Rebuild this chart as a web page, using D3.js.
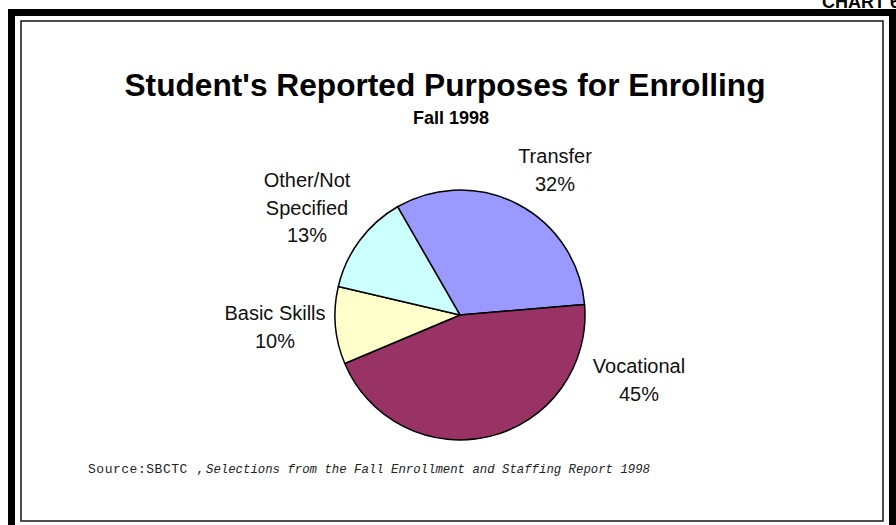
<!DOCTYPE html>
<html><head><meta charset="utf-8">
<script src="https://cdn.jsdelivr.net/npm/d3@7"></script>
<style>html,body{margin:0;padding:0;background:#fff;}svg{display:block;}</style>
</head><body>
<script>
const categories = ["Transfer", "Vocational", "Basic Skills", "Other/Not Specified"];
const values = [32, 45, 10, 13];
const colors = ["#9999FF", "#993366", "#FFFFCC", "#CCFFFF"];
const labelLines = [["Transfer", "32%"], ["Vocational", "45%"], ["Basic Skills", "10%"], ["Other/Not", "Specified", "13%"]];

const W = 896, H = 525;
const svg = d3.select("body").append("svg").attr("width", W).attr("height", H);

// frame
svg.append("rect").attr("x", 11.5).attr("y", 12.5).attr("width", 881).attr("height", 520)
  .attr("fill", "none").attr("stroke", "#000").attr("stroke-width", 7);
svg.append("rect").attr("x", 21).attr("y", 21).attr("width", 862).attr("height", 500)
  .attr("fill", "none").attr("stroke", "#222").attr("stroke-width", 1.6);

svg.append("text").attr("x", 900).attr("y", 8).attr("text-anchor", "end")
  .attr("font-family", "Liberation Sans, Arial, sans-serif").attr("font-weight", "bold")
  .attr("font-size", 18).text("CHART 6");

svg.append("text").attr("x", 445).attr("y", 96).attr("text-anchor", "middle")
  .attr("font-family", "Liberation Sans, Arial, sans-serif").attr("font-weight", "bold")
  .attr("font-size", 31).attr("textLength", 641).attr("lengthAdjust", "spacingAndGlyphs")
  .text("Student's Reported Purposes for Enrolling");
svg.append("text").attr("x", 451).attr("y", 124).attr("text-anchor", "middle")
  .attr("font-family", "Liberation Sans, Arial, sans-serif").attr("font-weight", "bold")
  .attr("font-size", 18).text("Fall 1998");

const cx = 460, cy = 315, r = 125;
const startA = -30 * Math.PI / 180;
const pie = d3.pie().sort(null).startAngle(startA).endAngle(startA + 2 * Math.PI);
const arcs = pie(values);
const arc = d3.arc().innerRadius(0).outerRadius(r);
const g = svg.append("g").attr("transform", `translate(${cx},${cy})`);
g.selectAll("path").data(arcs).join("path")
  .attr("d", arc).attr("fill", (d, i) => colors[i])
  .attr("stroke", "#000").attr("stroke-width", 1.5).attr("stroke-linejoin", "round");

// label positions (center x, first baseline y)
const labelPos = [[555, 163], [639, 373], [275, 320], [307, 187]];
const lineH = 27.5;
labelLines.forEach((lines, i) => {
  const t = svg.append("text").attr("text-anchor", "middle")
    .attr("font-family", "Liberation Sans, Arial, sans-serif").attr("font-size", 20).attr("fill", "#111");
  lines.forEach((s, j) => {
    t.append("tspan").attr("x", labelPos[i][0]).attr("y", labelPos[i][1] + j * lineH).text(s);
  });
});

// source
svg.append("text").attr("x", 88).attr("y", 473).attr("font-family", "Liberation Mono, Courier New, monospace")
  .attr("font-size", 13).attr("fill", "#222").attr("textLength", 116).attr("lengthAdjust", "spacing")
  .text("Source:SBCTC ,");
svg.append("text").attr("x", 206).attr("y", 473).attr("font-family", "Liberation Mono, Courier New, monospace")
  .attr("font-style", "italic").attr("font-size", 13).attr("fill", "#222")
  .attr("textLength", 444).attr("lengthAdjust", "spacingAndGlyphs")
  .text("Selections from the Fall Enrollment and Staffing Report 1998");
</script>
</body></html>
